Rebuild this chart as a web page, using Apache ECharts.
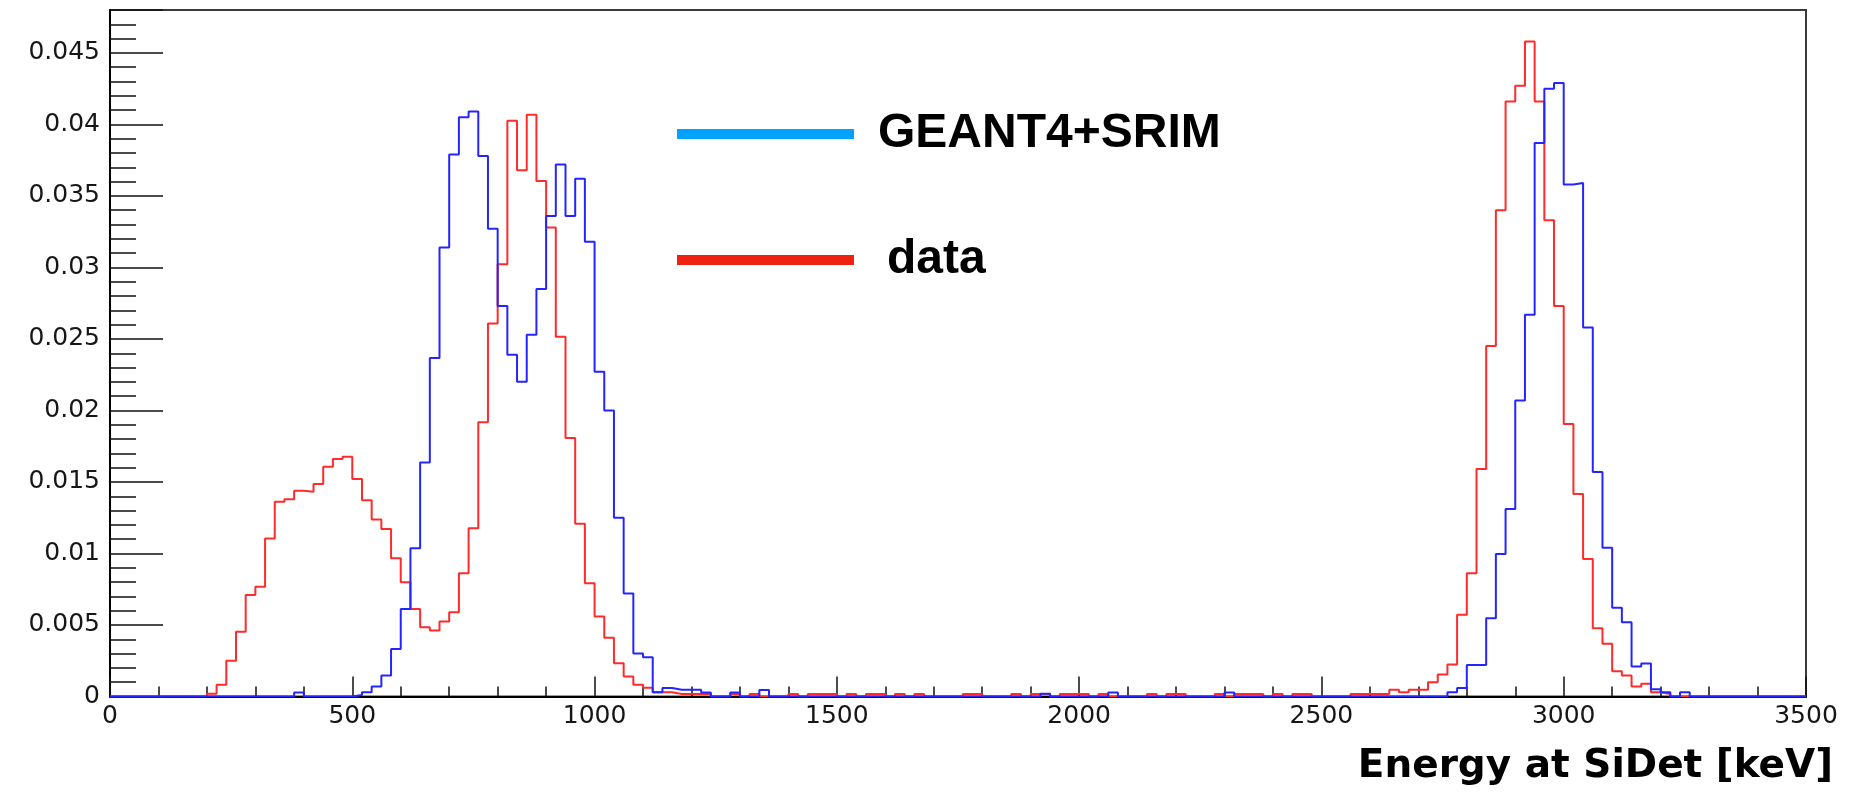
<!DOCTYPE html>
<html>
<head>
<meta charset="utf-8">
<title>Energy at SiDet</title>
<script src="https://cdn.jsdelivr.net/npm/echarts@6/dist/echarts.min.js"></script>
<style>
  html, body { margin: 0; padding: 0; background: #ffffff; }
  #chart { width: 1851px; height: 794px; }
</style>
</head>
<body>
<div id="chart"></div>
<script>
// Histogram binning (keV)
const binWidth = 20;
const energyMin = 0;
const energyMax = 3500;
const energyTickStep = 500;
const yMax = 0.048;
const yTickStep = 0.005;

const seriesNames = ['GEANT4+SRIM', 'data'];
const legendColors = ['#00A2FF', '#EE2211'];
const lineColors = ['#2424ff', '#ff2a2a'];
const axisTitle = 'Energy at SiDet [keV]';

// Normalised counts per 20 keV bin, simulation (one row = 200 keV)
const simCounts = [
  0, 0, 0, 0, 0, 0, 0, 0, 0, 0,                                                  //    0- 200
  0, 0, 0, 0, 0, 0, 0, 0, 0, 0.00028,                                            //  200- 400
  0, 0, 0, 0, 0, 0.0001, 0.0003, 0.0007, 0.00146, 0.00332,                       //  400- 600
  0.00612, 0.01036, 0.01636, 0.02367, 0.0314, 0.0379, 0.0405, 0.0409, 0.0378, 0.0327, //  600- 800
  0.0273, 0.0239, 0.0220, 0.0253, 0.0285, 0.0336, 0.0372, 0.0336, 0.0362, 0.0318,    //  800-1000
  0.0227, 0.0200, 0.0125, 0.0072, 0.0030, 0.00275, 0.0003, 0.0006, 0.00047, 0.00047, // 1000-1200
  0.00047, 0.00028, 0, 0, 0.00028, 0, 0, 0.00045, 0, 0,                          // 1200-1400
  0, 0, 0, 0, 0, 0, 0, 0, 0, 0,                                                  // 1400-1600
  0, 0, 0, 0, 0, 0, 0, 0, 0, 0,                                                  // 1600-1800
  0, 0, 0, 0, 0, 0, 0.00019, 0, 0, 0,                                            // 1800-2000
  0, 0, 0, 0.00028, 0, 0, 0, 0, 0, 0,                                            // 2000-2200
  0, 0, 0, 0, 0, 0.00028, 0, 0, 0, 0,                                            // 2200-2400
  0, 0, 0, 0, 0, 0, 0, 0, 0, 0,                                                  // 2400-2600
  0, 0, 0, 0, 0, 0, 0, 0, 0.0003, 0.0006,                                        // 2600-2800
  0.0022, 0.0022, 0.00547, 0.00997, 0.01311, 0.0207, 0.0267, 0.0387, 0.0425, 0.0429, // 2800-3000
  0.0358, 0.0359, 0.0258, 0.0157, 0.0104, 0.0062, 0.0052, 0.0021, 0.0023, 0.0005,    // 3000-3200
  0.0003, 0, 0.0003, 0, 0, 0, 0, 0, 0, 0,                                        // 3200-3400
  0, 0, 0, 0, 0                                                                  // 3400-3500
];

// Normalised counts per 20 keV bin, measurement
const dataCounts = [
  0, 0, 0, 0, 0, 0, 0, 0, 0, 0,                                                  //    0- 200
  0.0002, 0.00083, 0.0025, 0.00453, 0.0071, 0.00768, 0.01105, 0.01362, 0.0138, 0.01439, //  200- 400
  0.01432, 0.01485, 0.01606, 0.0166, 0.01676, 0.0152, 0.01372, 0.01238, 0.01171, 0.00966, //  400- 600
  0.00798, 0.00612, 0.00484, 0.00461, 0.00524, 0.00589, 0.00862, 0.01176, 0.01917, 0.02608, //  600- 800
  0.03023, 0.04025, 0.0368, 0.04067, 0.03605, 0.03279, 0.02515, 0.01807, 0.01207, 0.00792, //  800-1000
  0.00559, 0.0041, 0.00233, 0.0014, 0.00082, 0.00061, 0.0003, 0.0003, 0.00017, 0.00017,   // 1000-1200
  0.00017, 0.00017, 0, 0, 0.00017, 0, 0.00017, 0, 0, 0,                          // 1200-1400
  0.00017, 0, 0.00017, 0.00017, 0.00017, 0, 0.00017, 0, 0.00017, 0.00017,        // 1400-1600
  0, 0.00017, 0, 0.00017, 0, 0, 0, 0, 0.00017, 0.00017,                          // 1600-1800
  0, 0, 0, 0.00017, 0, 0.00017, 0.00017, 0, 0.00017, 0.00017,                    // 1800-2000
  0.00017, 0, 0.00017, 0, 0, 0, 0, 0.00017, 0, 0.00017,                          // 2000-2200
  0.00017, 0, 0, 0, 0.00017, 0, 0.00017, 0.00017, 0.00017, 0,                    // 2200-2400
  0.00017, 0, 0.00017, 0.00017, 0, 0, 0, 0, 0.00017, 0.00017,                    // 2400-2600
  0.00017, 0.00017, 0.00047, 0.0003, 0.00047, 0.00047, 0.001, 0.00154, 0.00224, 0.00571, // 2600-2800
  0.00862, 0.01591, 0.0245, 0.0340, 0.0416, 0.0427, 0.0458, 0.0416, 0.0333, 0.0273,      // 2800-3000
  0.01905, 0.01416, 0.00962, 0.00477, 0.00368, 0.00177, 0.00147, 0.0007, 0.00089, 0.0003, // 3000-3200
  0.00017, 0, 0, 0, 0, 0, 0, 0, 0, 0,                                            // 3200-3400
  0, 0, 0, 0, 0                                                                  // 3400-3500
];

// Turn bin contents into step-line points: left edge of each bin, plus closing edge
function histogramPoints(values) {
  const pts = values.map((v, i) => [energyMin + binWidth * i, v]);
  pts.push([energyMin + binWidth * values.length, values[values.length - 1]]);
  return pts;
}

const tickFont = { fontFamily: 'DejaVu Sans', fontSize: 25, color: '#161616' };

const chart = echarts.init(document.getElementById('chart'), null, { renderer: 'canvas' });

chart.setOption({
  animation: false,
  backgroundColor: '#ffffff',
  grid: {
    left: 110, top: 10, width: 1696, height: 686.5,
    show: true, borderColor: '#3a3a3a', borderWidth: 2, backgroundColor: 'transparent'
  },
  legend: {
    orient: 'vertical',
    left: 672, top: 105,
    itemWidth: 177, itemHeight: 10, itemGap: 78,
    icon: 'rect',
    selectedMode: false,
    textStyle: { fontFamily: 'Liberation Sans', fontWeight: 'bold', fontSize: 48, color: '#000', lineHeight: 48 },
    data: [
      { name: seriesNames[0], itemStyle: { color: legendColors[0], borderWidth: 0 }, textStyle: { padding: [0, 0, 0, 19] } },
      { name: seriesNames[1], itemStyle: { color: legendColors[1], borderWidth: 0 }, textStyle: { padding: [0, 0, 0, 28] } }
    ]
  },
  xAxis: {
    type: 'value',
    min: energyMin, max: energyMax, interval: energyTickStep,
    axisLine: { show: true, lineStyle: { color: '#000', width: 2 } },
    axisTick: { show: true, inside: true, length: 20, lineStyle: { color: '#111', width: 1.5 } },
    minorTick: { show: true, splitNumber: 5, length: 10, lineStyle: { color: '#111', width: 1.5 } },
    splitLine: { show: false },
    axisLabel: Object.assign({ margin: 7, formatter: v => String(v) }, tickFont)
  },
  yAxis: {
    type: 'value',
    min: 0, max: yMax, interval: yTickStep,
    axisLine: { show: true, lineStyle: { color: '#000', width: 2 } },
    axisTick: { show: true, inside: true, length: 53, lineStyle: { color: '#111', width: 1.5 } },
    minorTick: { show: true, splitNumber: 5, length: 26, lineStyle: { color: '#111', width: 1.5 } },
    splitLine: { show: false },
    axisLabel: Object.assign({ margin: 10, showMaxLabel: false, formatter: v => String(+v.toFixed(4)) }, tickFont)
  },
  graphic: [{
    type: 'text',
    x: 1833, y: 766.5,
    style: {
      text: axisTitle,
      fontFamily: 'DejaVu Sans', fontWeight: 'bold', fontSize: 39,
      fill: '#000', align: 'right', verticalAlign: 'middle'
    }
  }],
  series: [
    {
      name: seriesNames[1], type: 'line', step: 'end', symbol: 'none',
      data: histogramPoints(dataCounts),
      lineStyle: { color: lineColors[1], width: 2 },
      itemStyle: { color: lineColors[1] }
    },
    {
      name: seriesNames[0], type: 'line', step: 'end', symbol: 'none',
      data: histogramPoints(simCounts),
      lineStyle: { color: lineColors[0], width: 2 },
      itemStyle: { color: lineColors[0] }
    }
  ]
});
</script>
</body>
</html>
